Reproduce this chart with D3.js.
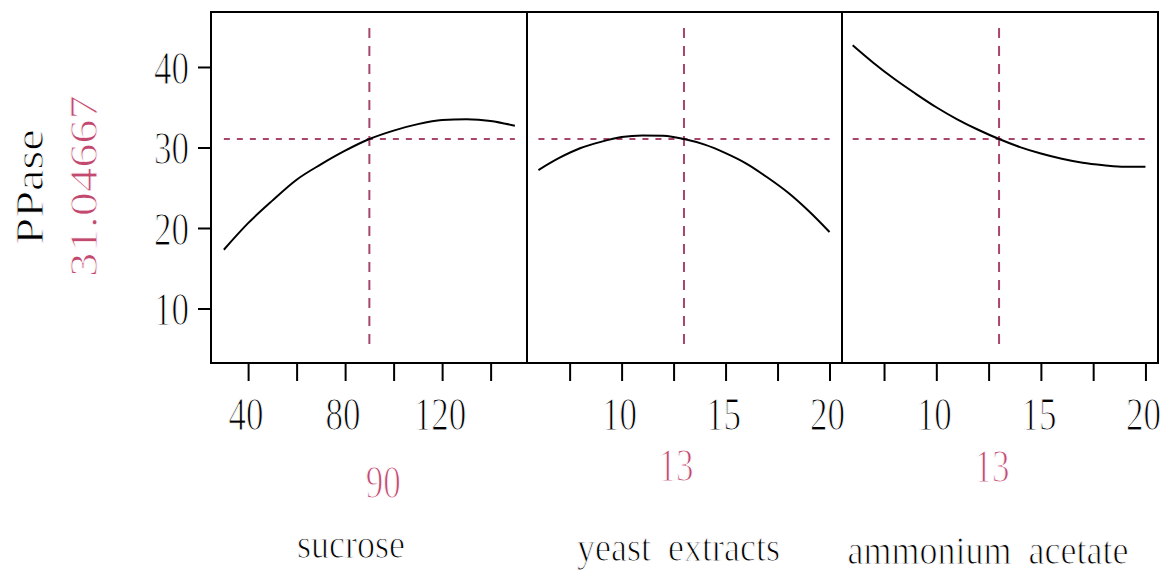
<!DOCTYPE html>
<html>
<head>
<meta charset="utf-8">
<script src="https://cdn.jsdelivr.net/npm/d3@7"></script>
<style>
  html, body { margin: 0; padding: 0; background: #fff; }
  svg { display: block; }
  text { font-family: "Liberation Serif", "Times New Roman", serif; stroke: #fff; stroke-width: 0.9px; paint-order: normal; }
</style>
</head>
<body>
<svg id="chart" width="1168" height="573"></svg>
<script>
// ---------- data ----------
const factorNames = ["sucrose", "yeast extracts", "ammonium acetate"];
const sucroseX = [30, 40, 50, 60, 70, 80, 90, 100, 110, 120, 130, 140, 150];
const sucroseY = [17.3, 20.6, 23.4, 26.0, 27.9, 29.6, 31.05, 32.1, 32.9, 33.4, 33.5, 33.3, 32.7];
const yeastX = [6, 7, 8, 9, 10, 11, 12, 13, 14, 15, 16, 17, 18, 19, 20];
const yeastY = [27.2, 28.7, 29.9, 30.7, 31.3, 31.5, 31.45, 31.05, 30.35, 29.3, 28.0, 26.3, 24.4, 22.1, 19.5];
const ammoniumX = [6, 7, 8, 9, 10, 11, 12, 13, 14, 15, 16, 17, 18, 19, 20];
const ammoniumY = [42.7, 40.5, 38.5, 36.7, 35.0, 33.5, 32.2, 31.05, 30.05, 29.25, 28.6, 28.1, 27.8, 27.6, 27.6];
const refX = [90, 13, 13];
const refXLabels = ["90", "13", "13"];
const responseName = "PPase";
const refY = 31.04667;
const refYLabel = "31.04667";
const yTicks = [10, 20, 30, 40];
const xTicks = [
  [40, 60, 80, 100, 120, 140],
  [7.5, 10, 12.5, 15, 17.5, 20],
  [7.5, 10, 12.5, 15, 17.5, 20]
];
const xTickLabels = [
  ["40", "", "80", "", "120", ""],
  ["", "10", "", "15", "", "20"],
  ["", "10", "", "15", "", "20"]
];

// ---------- layout ----------
const svg = d3.select("#chart");
const frame = { left: 211, right: 1158, top: 12, bottom: 363 };
const dividers = [527, 842];
const panelEdges = [frame.left, dividers[0], dividers[1], frame.right];
const xDomains = [[24.7, 155.0], [5.45, 20.6], [5.49, 20.6]];
const series = [
  sucroseX.map((x, i) => ({ x, y: sucroseY[i] })),
  yeastX.map((x, i) => ({ x, y: yeastY[i] })),
  ammoniumX.map((x, i) => ({ x, y: ammoniumY[i] }))
];
const refColor = "#a8456c";
const refTextColor = "#c24a70";
const refLabelDx = [14, -8, -7];
const refLabelBaseline = [498, 481, 482];
const titleDx = [-18, -6, -12];
const titleBaseline = [558, 561, 564];

const y = d3.scaleLinear().domain([3.23, 46.83]).range([frame.bottom, frame.top]);

// y axis ticks
const yAxis = d3.axisLeft(y).tickValues(yTicks).tickSize(13).tickFormat("");
const yg = svg.append("g").attr("transform", `translate(${frame.left},0)`).call(yAxis);
yg.select(".domain").remove();
yg.selectAll(".tick line").attr("stroke", "#000").attr("stroke-width", 2);

svg.append("g").selectAll("text").data(yTicks).join("text")
  .attr("transform", d => `translate(189,${y(d) + 17}) scale(1,1.35)`)
  .attr("text-anchor", "end")
  .attr("font-size", 35)
  .attr("fill", "#000")
  .text(d => d);

// y title and reference value (rotated)
svg.append("text")
  .attr("transform", "translate(43,187) rotate(-90) scale(1.24,1)")
  .attr("text-anchor", "middle")
  .attr("font-size", 39)
  .attr("fill", "#000")
  .text(responseName);
svg.append("text")
  .attr("transform", "translate(97,186) rotate(-90) scale(1.21,1)")
  .attr("text-anchor", "middle")
  .attr("font-size", 40)
  .attr("fill", refTextColor)
  .text(refYLabel);

// panels
series.forEach((data, p) => {
  const x = d3.scaleLinear().domain(xDomains[p]).range([panelEdges[p], panelEdges[p + 1]]);
  const g = svg.append("g");

  // x axis ticks
  const xAxis = d3.axisBottom(x).tickValues(xTicks[p]).tickSize(18).tickFormat("");
  const xg = g.append("g").attr("transform", `translate(0,${frame.bottom})`).call(xAxis);
  xg.select(".domain").remove();
  xg.selectAll(".tick line").attr("stroke", "#000").attr("stroke-width", 2);

  g.append("g").selectAll("text")
    .data(xTicks[p].map((v, i) => ({ v, label: xTickLabels[p][i] })).filter(d => d.label))
    .join("text")
    .attr("transform", d => `translate(${x(d.v) - 2},430) scale(1,1.35)`)
    .attr("text-anchor", "middle")
    .attr("font-size", 35)
    .attr("fill", "#000")
    .text(d => d.label);

  // reference lines
  const xs = d3.extent(data, d => d.x);
  g.append("line")
    .attr("x1", x(xs[0])).attr("x2", x(xs[1]))
    .attr("y1", y(refY)).attr("y2", y(refY))
    .attr("stroke", refColor).attr("stroke-width", 2)
    .attr("stroke-dasharray", "6,7");
  g.append("line")
    .attr("x1", x(refX[p])).attr("x2", x(refX[p]))
    .attr("y1", y(44.84)).attr("y2", y(4.84))
    .attr("stroke", refColor).attr("stroke-width", 2)
    .attr("stroke-dasharray", "10,8");

  // curve
  const line = d3.line().x(d => x(d.x)).y(d => y(d.y)).curve(d3.curveMonotoneX);
  g.append("path").datum(data)
    .attr("d", line)
    .attr("fill", "none")
    .attr("stroke", "#000")
    .attr("stroke-width", 2);

  // reference value label
  g.append("text")
    .attr("transform", `translate(${x(refX[p]) + refLabelDx[p]},${refLabelBaseline[p]}) scale(1,1.35)`)
    .attr("text-anchor", "middle")
    .attr("font-size", 35)
    .attr("fill", refTextColor)
    .text(refXLabels[p]);

  // factor title
  const cx = (panelEdges[p] + panelEdges[p + 1]) / 2;
  g.append("text")
    .attr("transform", `translate(${cx + titleDx[p]},${titleBaseline[p]}) scale(1,1.12)`)
    .attr("text-anchor", "middle")
    .attr("font-size", 36)
    .attr("word-spacing", 8)
    .attr("fill", "#000")
    .text(factorNames[p]);
});

// frame and dividers
svg.append("rect")
  .attr("x", frame.left).attr("y", frame.top)
  .attr("width", frame.right - frame.left).attr("height", frame.bottom - frame.top)
  .attr("fill", "none").attr("stroke", "#000").attr("stroke-width", 2);
svg.append("g").selectAll("line").data(dividers).join("line")
  .attr("x1", d => d).attr("x2", d => d)
  .attr("y1", frame.top).attr("y2", frame.bottom)
  .attr("stroke", "#000").attr("stroke-width", 2);
</script>
</body>
</html>
